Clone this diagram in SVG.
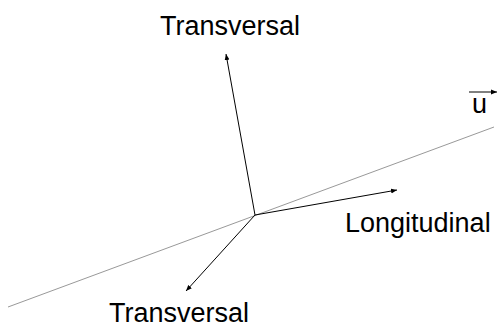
<svg xmlns="http://www.w3.org/2000/svg" width="497" height="327" viewBox="0 0 497 327">
<style>
.lbl{font-family:"Liberation Sans",Arial,sans-serif;font-size:27px;fill:#000}
.vec{stroke:#000;stroke-width:1;fill:none}
.axis{stroke:#999;stroke-width:1;fill:none}
</style>
<defs>
<marker id="ah" viewBox="0 0 10 10" refX="10" refY="5" markerWidth="6" markerHeight="6" markerUnits="userSpaceOnUse" orient="auto">
<path d="M0,1 L10,5 L0,9 Z" fill="#000"/>
</marker>
</defs>
<rect width="497" height="327" fill="#fff"/>
<g id="connectors">
<line class="axis" x1="8" y1="307" x2="494" y2="127"/>
<line class="vec" x1="255" y1="215" x2="226" y2="54" marker-end="url(#ah)"/>
<line class="vec" x1="255" y1="215" x2="397" y2="190" marker-end="url(#ah)"/>
<line class="vec" x1="255" y1="215" x2="186" y2="291" marker-end="url(#ah)"/>
<line class="vec" x1="469" y1="92" x2="497" y2="92" marker-end="url(#ah)"/>
</g>
<g id="transversal-top"><text class="lbl" x="230" y="35" text-anchor="middle">Transversal</text></g>
<g id="longitudinal"><text class="lbl" x="345" y="232">Longitudinal</text></g>
<g id="transversal-bottom"><text class="lbl" x="179" y="322" text-anchor="middle">Transversal</text></g>
<g id="u-label"><text class="lbl" x="472" y="113">u</text></g>
</svg>
